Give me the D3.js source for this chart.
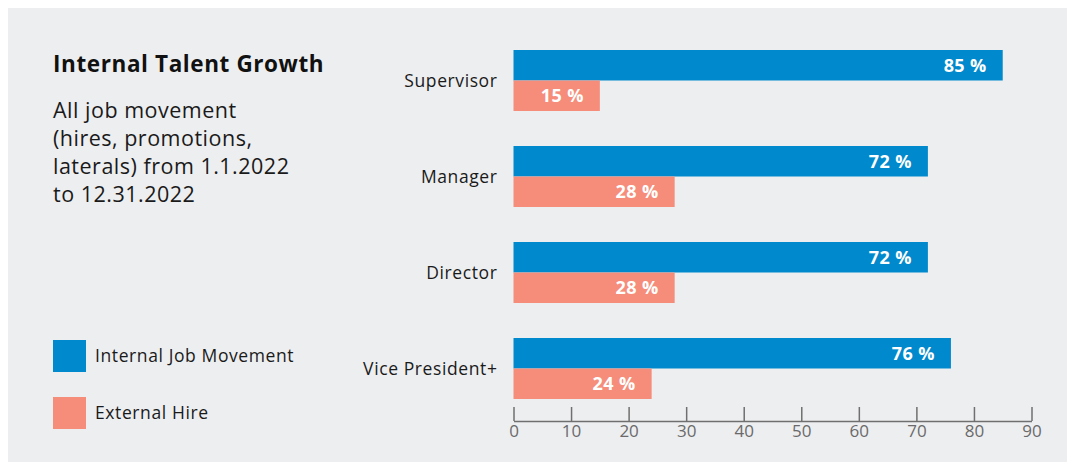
<!DOCTYPE html>
<html>
<head>
<meta charset="utf-8">
<script src="https://cdn.jsdelivr.net/npm/d3@7"></script>
<style>
  html, body { margin: 0; padding: 0; background: #ffffff; }
  svg { display: block; font-family: "Open Sans", "Noto Sans", sans-serif; }
</style>
</head>
<body>
<svg id="chart" width="1075" height="470"></svg>
<script>
// Job levels, top to bottom
const categories = ["Supervisor", "Manager", "Director", "Vice President+"];
// Share of job movement per level (%)
const internalMovement = [85, 72, 72, 76];
const externalHire = [15, 28, 28, 24];
const seriesNames = ["Internal Job Movement", "External Hire"];
const tickValues = [0, 10, 20, 30, 40, 50, 60, 70, 80, 90];

const colors = { "Internal Job Movement": "#0089cc", "External Hire": "#f58d7a" };

const svg = d3.select("#chart");

// panel background
svg.append("rect")
  .attr("x", 8).attr("y", 8)
  .attr("width", 1059).attr("height", 454)
  .attr("fill", "#edeef0");

// title block
svg.append("text")
  .attr("x", 53).attr("y", 72)
  .attr("font-size", 22.5).attr("font-weight", 700)
  .attr("letter-spacing", 0.6)
  .attr("fill", "#111")
  .text("Internal Talent Growth");

const subtitle = ["All job movement", "(hires, promotions,", "laterals) from 1.1.2022", "to 12.31.2022"];
svg.append("g").selectAll("text")
  .data(subtitle).join("text")
  .attr("x", 53)
  .attr("y", (d, i) => 118 + i * 28)
  .attr("font-size", 21.5)
  .attr("letter-spacing", 0.5)
  .attr("fill", "#1a1a1a")
  .text(d => d);

// scales
const x = d3.scaleLinear().domain([0, 90]).range([513.5, 1031.5]);
const y = d3.scaleBand().domain(categories).range([50, 399]).paddingInner(35 / 96).paddingOuter(0);
const ySub = d3.scaleBand().domain(seriesNames).range([0, y.bandwidth()]);

const rows = categories.map((c, i) => ({
  category: c,
  values: [
    { series: seriesNames[0], value: internalMovement[i] },
    { series: seriesNames[1], value: externalHire[i] }
  ]
}));

const groups = svg.append("g").selectAll("g")
  .data(rows).join("g")
  .attr("transform", d => `translate(0,${y(d.category)})`);

groups.selectAll("rect")
  .data(d => d.values).join("rect")
  .attr("x", x(0))
  .attr("y", d => ySub(d.series))
  .attr("width", d => x(d.value) - x(0))
  .attr("height", ySub.bandwidth())
  .attr("fill", d => colors[d.series]);

groups.selectAll("text.val")
  .data(d => d.values).join("text")
  .attr("class", "val")
  .attr("x", d => x(d.value) - 16)
  .attr("y", d => ySub(d.series) + ySub.bandwidth() / 2)
  .attr("dy", "0.35em")
  .attr("text-anchor", "end")
  .attr("font-size", 18).attr("font-weight", 700)
  .attr("letter-spacing", 0.4)
  .attr("fill", "#ffffff")
  .text(d => d.value + " %");

// category labels
groups.append("text")
  .attr("x", x(0) - 16)
  .attr("y", y.bandwidth() / 2)
  .attr("dy", "0.35em")
  .attr("text-anchor", "end")
  .attr("font-size", 17.5)
  .attr("letter-spacing", 0.6)
  .attr("fill", "#1a1a1a")
  .text(d => d.category);

// bottom axis
const axis = svg.append("g")
  .attr("transform", "translate(0,421)")
  .call(d3.axisBottom(x).tickValues(tickValues).tickSizeInner(-14).tickSizeOuter(0).tickPadding(4));
axis.select(".domain").attr("stroke", "#6f6f6f").attr("stroke-width", 1.5);
axis.selectAll(".tick line").attr("stroke", "#6f6f6f").attr("stroke-width", 1.5);
axis.selectAll(".tick text")
  .attr("fill", "#6a6a6a")
  .attr("font-size", 17)
  .attr("font-family", "\"Open Sans\", \"Noto Sans\", sans-serif")
  .attr("dy", "0.71em");

// legend
const legend = svg.append("g").selectAll("g")
  .data(seriesNames).join("g")
  .attr("transform", (d, i) => `translate(53,${340 + i * 57})`);
legend.append("rect")
  .attr("width", 33).attr("height", 32)
  .attr("fill", d => colors[d]);
legend.append("text")
  .attr("x", 42).attr("y", 16)
  .attr("dy", "0.35em")
  .attr("font-size", 17.5)
  .attr("letter-spacing", 0.6)
  .attr("fill", "#1a1a1a")
  .text(d => d);
</script>
</body>
</html>
